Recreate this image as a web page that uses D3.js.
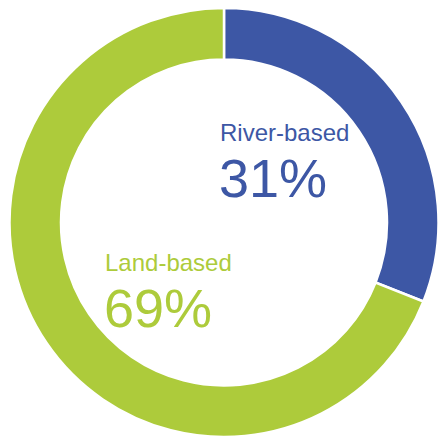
<!DOCTYPE html>
<html>
<head>
<meta charset="utf-8">
<script src="https://cdn.jsdelivr.net/npm/d3@7"></script>
<style>
  html, body { margin: 0; padding: 0; background: #ffffff; }
  svg { display: block; }
  text { font-family: "Liberation Sans", Arial, sans-serif; }
</style>
</head>
<body>
<svg id="chart" width="439" height="437"></svg>
<script>
// Share of sources, in percent
const categories = ["River-based", "Land-based"];
const shares = [31, 69];
const colors = ["#3d57a5", "#adcb3b"];

const svg = d3.select("#chart");
const cx = 224, cy = 222.5;
const outerR = 214.5, innerR = 163;

const pie = d3.pie().sort(null).value(d => d.value).startAngle(0).endAngle(2 * Math.PI);
const arc = d3.arc().innerRadius(innerR).outerRadius(outerR);

const data = categories.map((c, i) => ({ name: c, value: shares[i], color: colors[i] }));

const g = svg.append("g").attr("transform", `translate(${cx},${cy})`);
g.selectAll("path")
  .data(pie(data))
  .join("path")
  .attr("d", arc)
  .attr("fill", d => d.data.color)
  .attr("stroke", "#ffffff")
  .attr("stroke-width", 2.5);

// Labels inside the ring
const labelPos = [
  { x: 220, nameY: 140.5, valueY: 197 },
  { x: 105, nameY: 271, valueY: 326.5 }
];

data.forEach((d, i) => {
  const p = labelPos[i];
  svg.append("text")
    .attr("x", p.x).attr("y", p.nameY)
    .attr("fill", d.color)
    .attr("font-size", 24)
    .text(d.name);
  svg.append("text")
    .attr("x", p.x - 1).attr("y", p.valueY)
    .attr("fill", d.color)
    .attr("font-size", 54)
    .text(d.value + "%");
});
</script>
</body>
</html>
